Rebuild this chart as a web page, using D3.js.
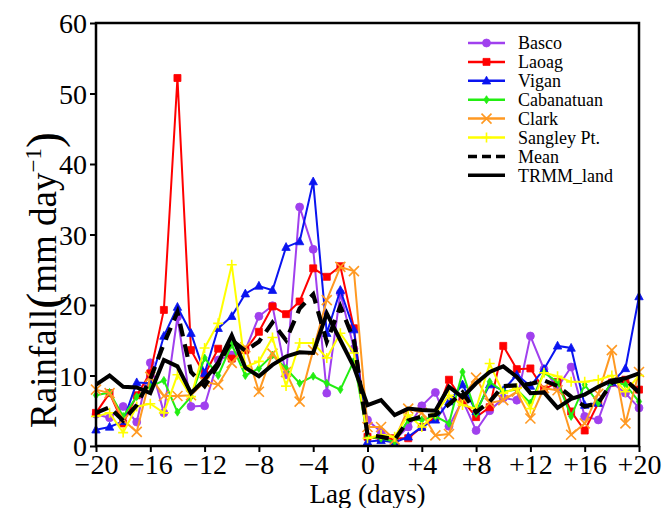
<!DOCTYPE html>
<html>
<head>
<meta charset="utf-8">
<script src="https://cdn.jsdelivr.net/npm/d3@7"></script>
<style>
  body { margin: 0; background: #fff; }
  svg { display: block; }
  text { font-family: "Liberation Serif", "DejaVu Serif", serif; fill: #000; }
</style>
</head>
<body>
<div id="chart"></div>
<script>
// lag in days, relative to the event
const lags = [-20,-19,-18,-17,-16,-15,-14,-13,-12,-11,-10,-9,-8,-7,-6,-5,-4,-3,-2,-1,
              0,1,2,3,4,5,6,7,8,9,10,11,12,13,14,15,16,17,18,19,20];

// rainfall, mm/day, one value per lag
const basco = [4.5,4.0,5.6,3.4,11.8,4.7,18.3,5.6,5.7,12.2,12.9,13.6,18.4,19.9,10.1,33.9,27.9,7.5,21.7,13.8,
               3.7,2.0,0.9,2.7,5.7,7.6,2.8,6.5,2.2,5.0,6.8,6.5,15.6,10.9,8.3,11.2,4.2,3.7,9.0,7.5,5.4];
const laoag = [4.7,7.5,3.2,7.2,10.3,19.3,52.2,13.6,10.1,13.8,12.4,13.6,16.2,19.8,18.7,20.5,25.2,24.0,25.5,16.7,
               1.3,1.0,1.1,1.1,2.7,4.1,9.4,6.5,4.1,5.5,14.2,10.9,11.0,8.0,9.1,4.9,2.2,6.1,9.0,9.4,8.0];
const vigan = [2.3,2.7,3.5,9.0,8.9,15.6,19.7,16.0,10.3,16.7,18.4,21.6,22.7,22.1,28.2,29.0,37.5,16.0,22.1,16.5,
               0.6,0.8,0.5,1.3,2.7,3.7,6.3,8.7,4.9,8.7,7.9,10.1,8.5,10.9,14.2,13.9,5.8,6.1,9.0,11.0,21.2];
const cabanatuan = [7.2,7.6,4.2,7.0,8.4,9.3,4.8,7.0,12.5,10.0,14.4,10.0,11.0,12.9,11.0,8.9,9.9,8.9,8.0,12.1,
               1.3,1.1,0.6,3.7,3.7,4.2,3.2,10.5,4.6,9.1,7.7,8.0,6.1,10.4,9.1,4.2,8.7,6.1,9.1,8.7,6.3];
const clark = [8.0,7.5,3.7,2.0,9.8,7.1,7.1,7.2,9.1,8.7,11.8,14.0,7.7,13.1,10.5,6.3,13.6,20.7,25.4,24.8,
               2.7,2.7,0.9,5.3,4.7,1.5,1.7,6.8,9.7,6.1,6.5,7.7,3.9,8.2,7.9,1.6,3.2,7.4,13.6,3.2,10.5];
const sangley = [4.2,4.7,1.9,5.6,6.0,4.7,10.1,7.0,13.9,17.4,25.7,11.2,12.0,15.4,8.5,14.6,14.6,12.5,16.0,13.2,
               1.1,1.6,1.3,4.4,2.7,4.6,7.2,5.8,5.3,11.7,7.5,8.2,5.3,10.4,9.9,9.1,9.1,9.4,10.0,7.7,10.0];
const stationMean = [4.7,5.5,3.6,5.8,9.5,14.5,19.0,10.5,8.5,11.5,15.0,13.5,14.8,17.5,15.0,19.5,21.5,14.8,19.8,15.0,
               1.6,1.3,0.9,3.6,4.2,4.4,5.9,7.6,4.8,6.3,8.5,8.6,8.8,9.3,8.5,7.0,5.6,6.1,9.0,9.4,7.6];
const trmmLand = [8.7,10.0,8.4,8.3,7.5,12.2,11.3,7.5,9.4,11.8,15.7,11.1,9.9,11.5,12.7,13.3,13.2,18.8,15.0,11.2,
               5.8,6.5,4.4,5.3,5.1,5.0,8.4,6.9,8.9,10.5,11.3,9.8,7.5,7.6,5.4,6.7,7.3,8.4,9.3,9.6,10.3];

const seriesNames = ["Basco","Laoag","Vigan","Cabanatuan","Clark","Sangley Pt.","Mean","TRMM_land"];
const xTicks = [-20,-16,-12,-8,-4,0,4,8,12,16,20];
const yTicks = [0,10,20,30,40,50,60];

const series = [
  { name: seriesNames[0], values: basco,      color: "#a040ee", marker: "circle" },
  { name: seriesNames[1], values: laoag,      color: "#ff0000", marker: "square" },
  { name: seriesNames[2], values: vigan,      color: "#0a14f0", marker: "triangle" },
  { name: seriesNames[3], values: cabanatuan, color: "#22ee11", marker: "diamond" },
  { name: seriesNames[4], values: clark,      color: "#ff9922", marker: "x" },
  { name: seriesNames[5], values: sangley,    color: "#ffff00", marker: "plus" },
  { name: seriesNames[6], values: stationMean, color: "#000", marker: null, dash: "13,8", width: 4.2 },
  { name: seriesNames[7], values: trmmLand,   color: "#000", marker: null, width: 4 }
];

const W = 672, H = 508;
const margin = { top: 23, right: 33, bottom: 62, left: 96 };

let svg = d3.select("#chart").append("svg")
    .attr("width", W)
    .attr("height", H);

let x = d3.scaleLinear().domain([-20, 20]).range([margin.left, W - margin.right]);
let y = d3.scaleLinear().domain([0, 60]).range([H - margin.bottom, margin.top]);

// marker shapes, drawn around 0,0
function markerPath(type, s) {
    let h = s / 2;
    switch (type) {
        case "circle":   return d3.symbol(d3.symbolCircle, s * s * 0.78)();
        case "square":   return "M" + (-h) + "," + (-h) + "H" + h + "V" + h + "H" + (-h) + "Z";
        case "triangle": return "M0," + (-h * 1.15) + "L" + (h * 1.05) + "," + (h * 0.8) + "L" + (-h * 1.05) + "," + (h * 0.8) + "Z";
        case "diamond":  return "M0," + (-h) + "L" + (h * 0.65) + ",0L0," + h + "L" + (-h * 0.65) + ",0Z";
        case "x":        return "M" + (-h) + "," + (-h) + "L" + h + "," + h + "M" + (-h) + "," + h + "L" + h + "," + (-h);
        case "plus":     return "M" + (-h) + ",0H" + h + "M0," + (-h) + "V" + h;
    }
    return "";
}
let strokeMarker = function(type) { return type === "x" || type === "plus"; };

let line = d3.line()
    .x(function(d, i) { return x(lags[i]); })
    .y(function(d) { return y(d); });

// series lines with markers
series.forEach(function(s) {
    let g = svg.append("g").attr("class", "series");
    g.append("path")
        .attr("d", line(s.values))
        .attr("fill", "none")
        .attr("stroke", s.color)
        .attr("stroke-width", s.width || 2)
        .attr("stroke-dasharray", s.dash || null)
        .attr("stroke-linejoin", "miter");
    if (s.marker) {
        let size = s.marker === "square" ? 7 : (s.marker === "plus" || s.marker === "x" ? 10 : 8);
        g.selectAll("path.mk")
            .data(s.values)
            .enter().append("path")
            .attr("class", "mk")
            .attr("transform", function(d, i) { return "translate(" + x(lags[i]) + "," + y(d) + ")"; })
            .attr("d", markerPath(s.marker, size))
            .attr("fill", strokeMarker(s.marker) ? "none" : s.color)
            .attr("stroke", s.color)
            .attr("stroke-width", strokeMarker(s.marker) ? 1.6 : 0.8);
    }
});

// axes
let fmtX = function(d) { return d > 0 ? "+" + d : (d < 0 ? "\u2212" + Math.abs(d) : "0"); };

let xAxis = svg.append("g")
    .attr("transform", "translate(0," + (H - margin.bottom) + ")")
    .call(d3.axisBottom(x).tickValues(xTicks).tickFormat(fmtX).tickSize(6).tickPadding(2));
let yAxis = svg.append("g")
    .attr("transform", "translate(" + margin.left + ",0)")
    .call(d3.axisLeft(y).tickValues(yTicks).tickSize(6).tickPadding(3));

[xAxis, yAxis].forEach(function(a) {
    a.select(".domain").remove();
    a.selectAll(".tick line").attr("stroke", "#000").attr("stroke-width", 2);
    a.selectAll(".tick text")
        .style("font-family", "'Liberation Serif', serif")
        .style("font-size", "28px")
        .attr("fill", "#000");
});
xAxis.selectAll(".tick text").attr("dy", "0.72em");
yAxis.selectAll(".tick text").attr("dy", "0.34em");

// frame
svg.append("rect")
    .attr("x", margin.left)
    .attr("y", margin.top)
    .attr("width", W - margin.left - margin.right)
    .attr("height", H - margin.top - margin.bottom)
    .attr("fill", "none")
    .attr("stroke", "#000")
    .attr("stroke-width", 2.5);

// axis titles
svg.append("text")
    .attr("x", (margin.left + W - margin.right) / 2)
    .attr("y", H - 5)
    .attr("text-anchor", "middle")
    .style("font-size", "27px")
    .text("Lag (days)");

let ylab = svg.append("text")
    .attr("transform", "translate(56," + 280 + ")rotate(-90)")
    .attr("text-anchor", "middle")
    .style("font-size", "37px");
ylab.append("tspan").text("Rainfall");
ylab.append("tspan").style("font-size", "48px").attr("dy", "4").text("(");
ylab.append("tspan").attr("dy", "-4").text("mm day");
ylab.append("tspan").style("font-size", "23px").attr("dy", "-15").text("\u22121");
ylab.append("tspan").style("font-size", "48px").attr("dy", "19").text(")");

// legend
let legend = svg.append("g").attr("class", "legend");
series.forEach(function(s, i) {
    let ly = 43 + i * 18.9;
    legend.append("line")
        .attr("x1", 468).attr("x2", 505)
        .attr("y1", ly).attr("y2", ly)
        .attr("stroke", s.color)
        .attr("stroke-width", s.width ? 3.5 : 2.5)
        .attr("stroke-dasharray", s.dash ? "9,5" : null);
    if (s.marker) {
        let size = s.marker === "square" ? 7 : (s.marker === "plus" || s.marker === "x" ? 10 : 8);
        legend.append("path")
            .attr("transform", "translate(486.5," + ly + ")")
            .attr("d", markerPath(s.marker, size))
            .attr("fill", strokeMarker(s.marker) ? "none" : s.color)
            .attr("stroke", s.color)
            .attr("stroke-width", strokeMarker(s.marker) ? 1.6 : 0.8);
    }
    legend.append("text")
        .attr("x", 518)
        .attr("y", ly)
        .attr("dy", "0.35em")
        .style("font-size", "18px")
        .text(s.name);
});
</script>
</body>
</html>
